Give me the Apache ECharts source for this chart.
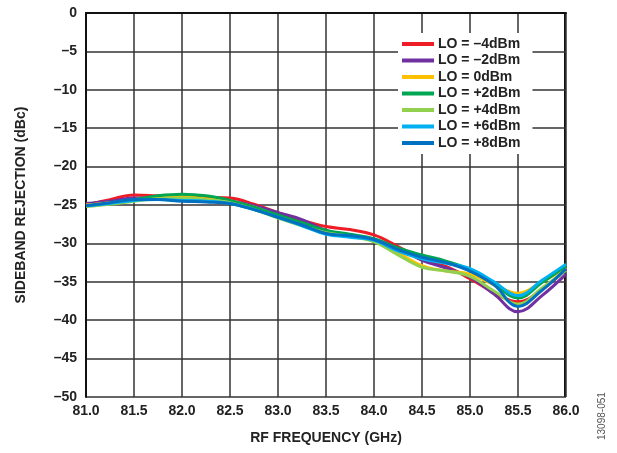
<!DOCTYPE html>
<html>
<head>
<meta charset="utf-8">
<script src="https://cdn.jsdelivr.net/npm/echarts@6/dist/echarts.min.js"></script>
<style>
  html, body { margin: 0; padding: 0; background: #fff; }
  #chart { width: 617px; height: 453px; }
</style>
</head>
<body>
<div id="chart"></div>
<script>
// RF frequency points (GHz)
const freq = [81.0, 81.25, 81.5, 81.75, 82.0, 82.25, 82.5, 82.75, 83.0, 83.25, 83.5,
  83.75, 84.0, 84.25, 84.5, 84.75, 85.0, 85.25, 85.5, 85.75, 86.0];

// sideband rejection (dBc), one list per LO drive level
const loM4 = [-25.0, -24.3, -23.7, -23.8, -23.9, -24.0, -24.1, -24.9, -26.0, -27.0, -27.8,
  -28.2, -28.9, -30.4, -32.0, -33.0, -34.6, -36.4, -37.6, -36.0, -33.4];
const loM2 = [-24.8, -24.5, -24.1, -24.1, -24.1, -24.3, -24.5, -25.1, -26.0, -26.9, -28.3,
  -28.9, -29.5, -30.6, -32.2, -33.2, -34.4, -36.6, -38.9, -36.8, -34.0];
const lo0 = [-25.0, -24.7, -24.3, -24.0, -23.9, -24.2, -24.5, -25.3, -26.4, -27.5, -28.5,
  -29.0, -29.6, -31.2, -32.9, -33.6, -34.0, -35.4, -36.5, -35.0, -33.2];
const loP2 = [-25.1, -24.8, -24.3, -23.8, -23.6, -23.8, -24.4, -25.3, -26.3, -27.3, -28.3,
  -28.8, -29.4, -30.6, -31.5, -32.3, -33.4, -35.3, -37.1, -35.1, -32.9];
const loP4 = [-25.2, -24.9, -24.5, -24.2, -24.1, -24.3, -24.7, -25.6, -26.7, -27.7, -28.6,
  -29.1, -29.8, -31.5, -33.1, -33.6, -34.3, -36.2, -37.9, -35.8, -33.5];
const loP6 = [-25.1, -24.8, -24.4, -24.3, -24.4, -24.5, -24.8, -25.6, -26.6, -27.7, -28.8,
  -29.2, -29.6, -31.0, -32.0, -32.6, -33.3, -35.0, -36.8, -34.8, -32.7];
const loP8 = [-25.1, -24.7, -24.3, -24.3, -24.5, -24.6, -24.8, -25.6, -26.6, -27.6, -28.7,
  -29.0, -29.5, -30.8, -31.8, -32.5, -33.6, -35.4, -38.2, -36.1, -33.3];

const seriesNames = ['LO = –4dBm', 'LO = –2dBm', 'LO = 0dBm', 'LO = +2dBm',
  'LO = +4dBm', 'LO = +6dBm', 'LO = +8dBm'];
const seriesData = [loM4, loM2, lo0, loP2, loP4, loP6, loP8];
const colors = ['#ee1c25', '#7030a0', '#ffc000', '#00a651', '#92d050', '#00b0f0', '#0070c0'];

const FONT = '"Liberation Sans", Arial, sans-serif';

const chart = echarts.init(document.getElementById('chart'));

const option = {
  animation: false,
  grid: { left: 86, right: 51, top: 13, bottom: 56 },
  legend: {
    orient: 'vertical',
    left: 398,
    top: 33,
    backgroundColor: '#fff',
    padding: [3, 12, 3, 4],
    icon: 'rect',
    itemWidth: 32,
    itemHeight: 4,
    itemGap: 0.5,
    textStyle: { fontFamily: FONT, fontWeight: 'bold', fontSize: 14, color: '#222', lineHeight: 16, padding: [0, 0, 0, -1] },
    data: seriesNames
  },
  xAxis: {
    type: 'value',
    min: 81,
    max: 86,
    interval: 0.5,
    name: 'RF FREQUENCY (GHz)',
    nameLocation: 'middle',
    nameGap: 34,
    nameTextStyle: { fontFamily: FONT, fontWeight: 'bold', fontSize: 14, color: '#222' },
    axisLine: { show: true, lineStyle: { color: '#111', width: 2 } },
    axisTick: { show: false },
    axisLabel: {
      fontFamily: FONT, fontWeight: 'bold', fontSize: 14, color: '#222', margin: 7,
      formatter: v => v.toFixed(1)
    },
    splitLine: { show: true, lineStyle: { color: '#333', width: 1.5 } }
  },
  yAxis: {
    type: 'value',
    min: -50,
    max: 0,
    interval: 5,
    name: 'SIDEBAND REJECTION (dBc)',
    nameLocation: 'middle',
    nameGap: 58,
    nameTextStyle: { fontFamily: FONT, fontWeight: 'bold', fontSize: 14, color: '#222' },
    axisLine: { show: true, lineStyle: { color: '#111', width: 2 } },
    axisTick: { show: false },
    axisLabel: {
      fontFamily: FONT, fontWeight: 'bold', fontSize: 14, color: '#222', margin: 9,
      formatter: v => (v < 0 ? '–' + Math.abs(v) : String(v))
    },
    splitLine: { show: true, lineStyle: { color: '#333', width: 1.5 } }
  },
  graphic: [
    {
      type: 'rect',
      shape: { x: 565, y: 13, width: 0, height: 384 },
      style: { stroke: '#111', lineWidth: 2, fill: null }
    },
    {
      type: 'rect',
      shape: { x: 86, y: 13, width: 480, height: 0 },
      style: { stroke: '#111', lineWidth: 1, fill: null }
    },
    {
      type: 'text',
      x: 597,
      y: 440,
      rotation: Math.PI / 2,
      style: { text: '13098-051', fontFamily: FONT, fontSize: 10, fill: '#555' }
    }
  ],
  series: seriesData.map((vals, i) => ({
    name: seriesNames[i],
    type: 'line',
    smooth: 0.4,
    showSymbol: false,
    data: freq.map((f, j) => [f, vals[j]]),
    itemStyle: { color: colors[i] },
    lineStyle: { color: colors[i], width: 3 }
  }))
};

chart.setOption(option);
</script>
</body>
</html>
